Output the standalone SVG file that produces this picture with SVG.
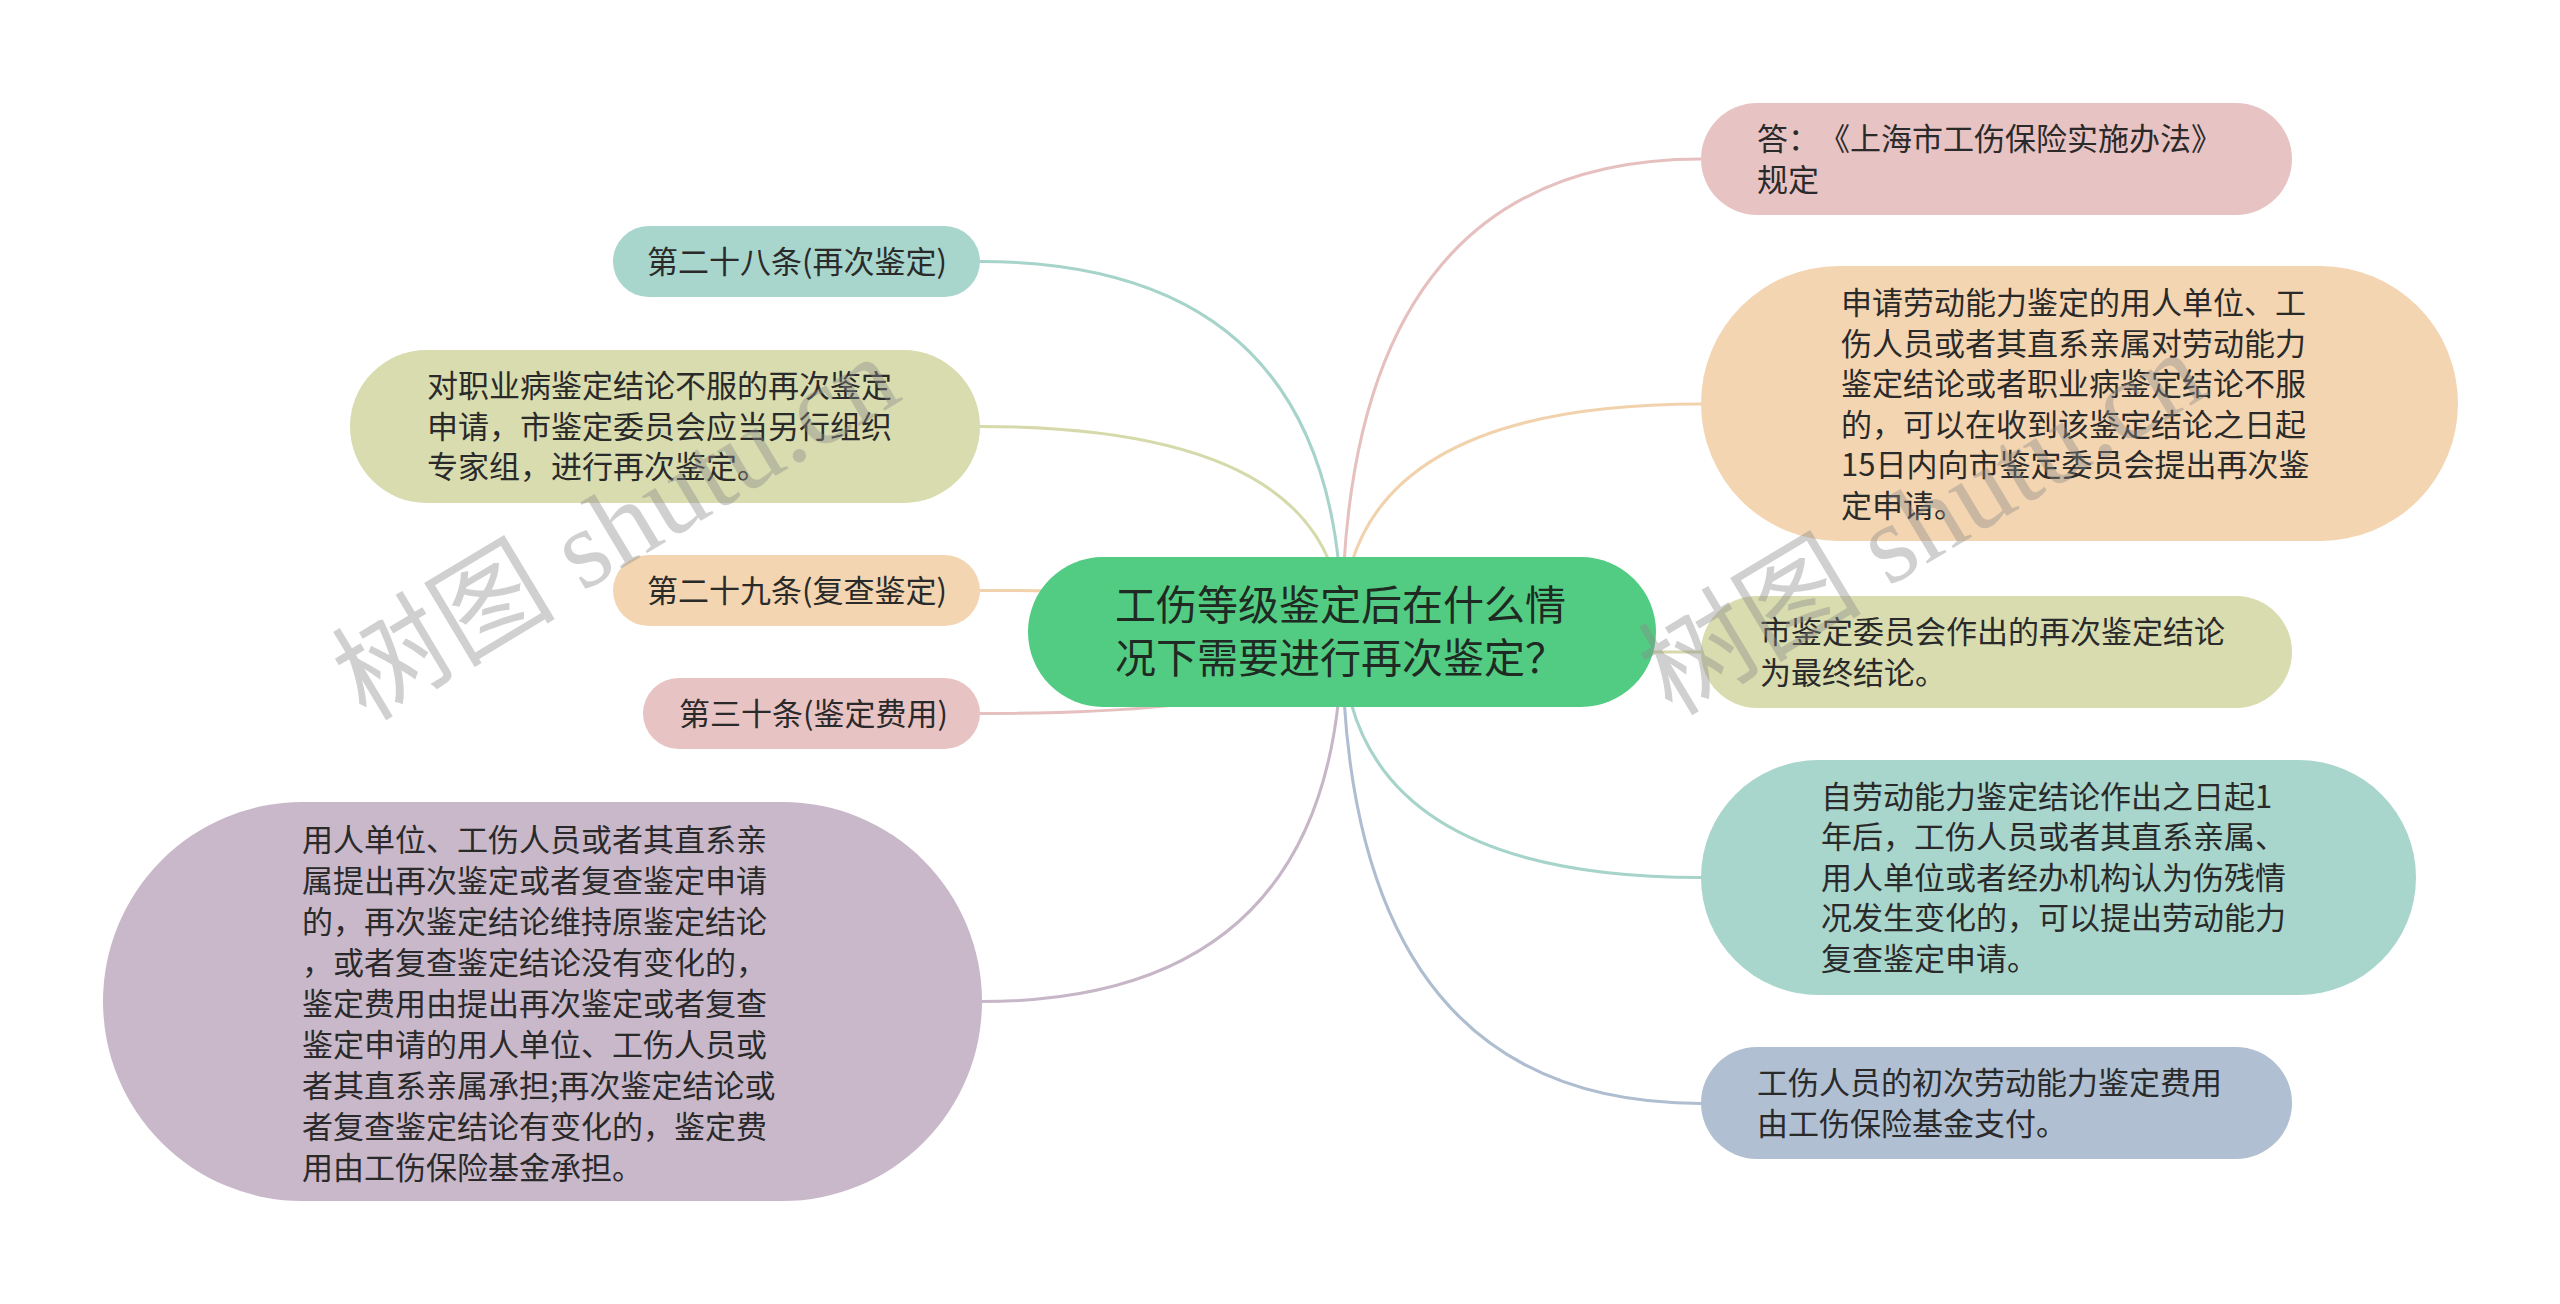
<svg xmlns="http://www.w3.org/2000/svg" width="2560" height="1304" viewBox="0 0 2560 1304">
<style>
text{font-family:"Noto Sans CJK SC","Liberation Sans",sans-serif;fill:#2a2a2a;text-spacing-trim:space-all}
.t{font-size:31px}
.root{font-size:41px;fill:#1f2a22}
.ln{fill:none;stroke-width:3}
.wm{font-family:"Liberation Serif","Noto Sans CJK SC",serif;font-size:112px;fill:#8a8a8a;fill-opacity:0.4}
</style>
<rect width="2560" height="1304" fill="#ffffff"/>
<g id="connectors">
<path class="ln" stroke="#a6d4ca" d="M1342 631 Q1342 261.5 980 261.5"/>
<path class="ln" stroke="#d6daab" d="M1342 631 Q1342 426.5 980 426.5"/>
<path class="ln" stroke="#f1d2ac" d="M1342 631 Q1342 590.5 980 590.5"/>
<path class="ln" stroke="#e6bfbf" d="M1342 631 Q1342 713.5 980 713.5"/>
<path class="ln" stroke="#c7b6c8" d="M1342 631 Q1342 1001.5 982 1001.5"/>
<path class="ln" stroke="#e6bfbf" d="M1342 631 Q1342 159 1701 159"/>
<path class="ln" stroke="#f1d2ac" d="M1342 631 Q1342 404 1701 404"/>
<path class="ln" stroke="#d6daab" d="M1342 631 Q1342 652 1701 652"/>
<path class="ln" stroke="#a6d4ca" d="M1342 631 Q1342 877.5 1701 877.5"/>
<path class="ln" stroke="#aebdd0" d="M1342 631 Q1342 1103.5 1701 1103.5"/>
</g>
<g id="root">
<rect x="1028" y="557" width="628" height="150" rx="75" fill="#52cc83"/>
<text class="root"><tspan x="1115" y="620">工伤等级鉴定后在什么情</tspan><tspan x="1115" y="673">况下需要进行再次鉴定？</tspan></text>
</g>
<g id="n28">
<rect x="613" y="226" width="367" height="71" rx="35.5" fill="#a8d5cc"/>
<text class="t" x="647" y="272.5">第二十八条(再次鉴定)</text>
</g>
<g id="nzyb">
<rect x="350" y="350" width="630" height="153" rx="76.5" fill="#d8dcaf"/>
<text class="t"><tspan x="427" y="397">对职业病鉴定结论不服的再次鉴定</tspan><tspan x="427" y="437.5">申请，市鉴定委员会应当另行组织</tspan><tspan x="427" y="478">专家组，进行再次鉴定。</tspan></text>
</g>
<g id="n29">
<rect x="613" y="555" width="367" height="71" rx="35.5" fill="#f3d5b1"/>
<text class="t" x="647" y="601.5">第二十九条(复查鉴定)</text>
</g>
<g id="n30">
<rect x="643" y="678" width="337" height="71" rx="35.5" fill="#e8c3c3"/>
<text class="t" x="679" y="724.5">第三十条(鉴定费用)</text>
</g>
<g id="nfee">
<rect x="103" y="802" width="879" height="399" rx="199.5" fill="#c8b8c9"/>
<text class="t"><tspan x="302" y="851">用人单位、工伤人员或者其直系亲</tspan><tspan x="302" y="892">属提出再次鉴定或者复查鉴定申请</tspan><tspan x="302" y="933">的，再次鉴定结论维持原鉴定结论</tspan><tspan x="302" y="974">，或者复查鉴定结论没有变化的，</tspan><tspan x="302" y="1015">鉴定费用由提出再次鉴定或者复查</tspan><tspan x="302" y="1056">鉴定申请的用人单位、工伤人员或</tspan><tspan x="302" y="1097">者其直系亲属承担;再次鉴定结论或</tspan><tspan x="302" y="1138">者复查鉴定结论有变化的，鉴定费</tspan><tspan x="302" y="1179">用由工伤保险基金承担。</tspan></text>
</g>
<g id="nans">
<rect x="1701" y="103" width="591" height="112" rx="56" fill="#e8c3c3"/>
<text class="t"><tspan x="1757" y="150">答：《上海市工伤保险实施办法》</tspan><tspan x="1757" y="190.5">规定</tspan></text>
</g>
<g id="napply">
<rect x="1701" y="266" width="757" height="275" rx="137.5" fill="#f3d5b1"/>
<text class="t"><tspan x="1841" y="314">申请劳动能力鉴定的用人单位、工</tspan><tspan x="1841" y="354.5">伤人员或者其直系亲属对劳动能力</tspan><tspan x="1841" y="395">鉴定结论或者职业病鉴定结论不服</tspan><tspan x="1841" y="435.5">的，可以在收到该鉴定结论之日起</tspan><tspan x="1841" y="476">15日内向市鉴定委员会提出再次鉴</tspan><tspan x="1841" y="516.5">定申请。</tspan></text>
</g>
<g id="nfinal">
<rect x="1701" y="596" width="591" height="112" rx="56" fill="#d8dcaf"/>
<text class="t"><tspan x="1760" y="643">市鉴定委员会作出的再次鉴定结论</tspan><tspan x="1760" y="683.5">为最终结论。</tspan></text>
</g>
<g id="nreview">
<rect x="1701" y="760" width="715" height="235" rx="117.5" fill="#a8d5cc"/>
<text class="t"><tspan x="1821" y="807.5">自劳动能力鉴定结论作出之日起1</tspan><tspan x="1821" y="848">年后，工伤人员或者其直系亲属、</tspan><tspan x="1821" y="888.5">用人单位或者经办机构认为伤残情</tspan><tspan x="1821" y="929">况发生变化的，可以提出劳动能力</tspan><tspan x="1821" y="969.5">复查鉴定申请。</tspan></text>
</g>
<g id="ninit">
<rect x="1701" y="1047" width="591" height="112" rx="56" fill="#b0bfd1"/>
<text class="t"><tspan x="1757" y="1094">工伤人员的初次劳动能力鉴定费用</tspan><tspan x="1757" y="1134.5">由工伤保险基金支付。</tspan></text>
</g>
<g id="watermark">
<text class="wm" transform="translate(366 722) rotate(-31)">树图 shutu.cn</text>
<text class="wm" transform="translate(1672 717) rotate(-31)">树图 shutu.cn</text>
</g>
</svg>
